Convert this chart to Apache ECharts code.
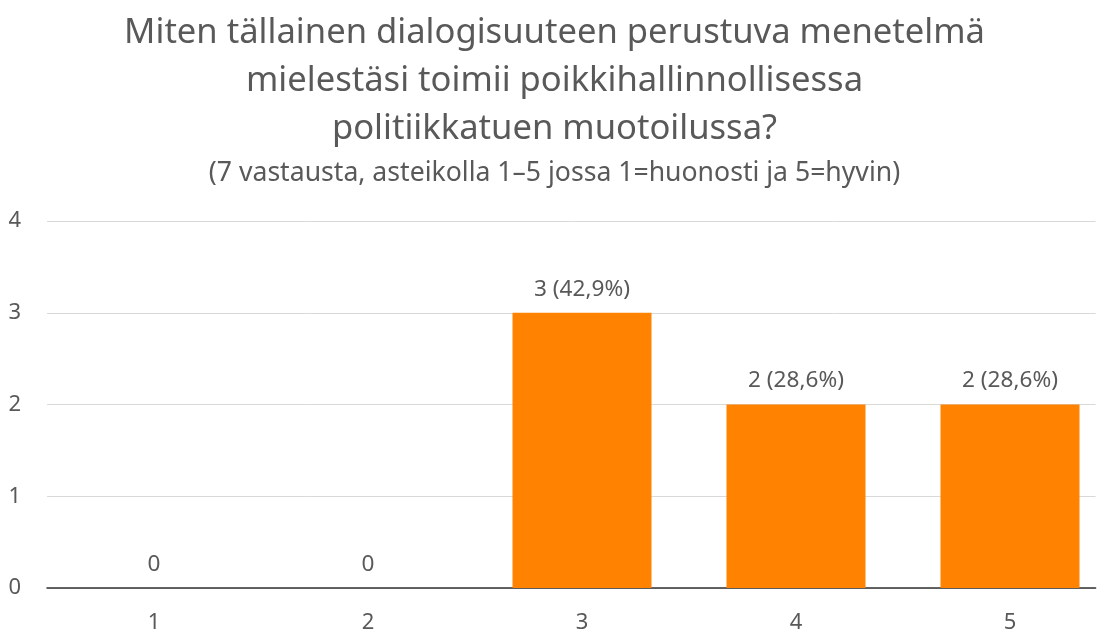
<!DOCTYPE html>
<html><head><meta charset="utf-8">
<script src="https://cdn.jsdelivr.net/npm/echarts@6/dist/echarts.min.js"></script>
<style>html,body{margin:0;padding:0;background:#fff}#c{width:1109px;height:636px}</style>
</head><body><div id="c"></div>
<script>
const categories = [1, 2, 3, 4, 5];
const counts = [0, 0, 3, 2, 2];
const yTicks = [0, 1, 2, 3, 4];
const total = 7;
const FONT = 'Noto Sans';
const chart = echarts.init(document.getElementById('c'));
chart.setOption({
  backgroundColor: '#fff',
  animation: false,
  title: [{
    text: 'Miten tällainen dialogisuuteen perustuva menetelmä\nmielestäsi toimii poikkihallinnollisessa\npolitiikkatuen muotoilussa?',
    left: 'center', top: 4,
    textStyle: {fontFamily: FONT, fontSize: 34.6, fontWeight: 'normal', color: '#595959', lineHeight: 48}
  }, {
    text: '(7 vastausta, asteikolla 1–5 jossa 1=huonosti ja 5=hyvin)',
    left: 'center', top: 155,
    textStyle: {fontFamily: FONT, fontSize: 26.6, fontWeight: 'normal', color: '#595959'}
  }],
  grid: {left: 47, right: 1109 - 1095.6, top: 221, bottom: 48, containLabel: false},
  xAxis: {
    type: 'value', min: 0.5, max: 5.4,
    axisLine: {show: true, lineStyle: {color: '#333', width: 1.5}},
    axisTick: {show: false},
    splitLine: {show: false},
    axisLabel: {customValues: categories, fontFamily: FONT, fontSize: 22, color: '#595959', margin: 24}
  },
  yAxis: {
    type: 'value', min: 0, max: 4, interval: 1,
    axisLine: {show: false}, axisTick: {show: false},
    splitLine: {lineStyle: {color: '#d9d9d9', width: 1}},
    axisLabel: {fontFamily: FONT, fontSize: 22, color: '#595959', margin: 26,
      formatter: v => yTicks.includes(v) ? String(v) : ''}
  },
  series: [{
    type: 'bar',
    data: categories.map((c, i) => [c, counts[i]]),
    barWidth: 139,
    itemStyle: {color: '#ff8200'},
    label: {
      show: true, position: 'top', distance: 12,
      fontFamily: FONT, fontSize: 22.6, color: '#595959',
      formatter: p => {
        const v = p.value[1];
        if (v === 0) return '0';
        return v + ' (' + (v / total * 100).toFixed(1).replace('.', ',') + '%)';
      }
    }
  }]
});
</script></body></html>
